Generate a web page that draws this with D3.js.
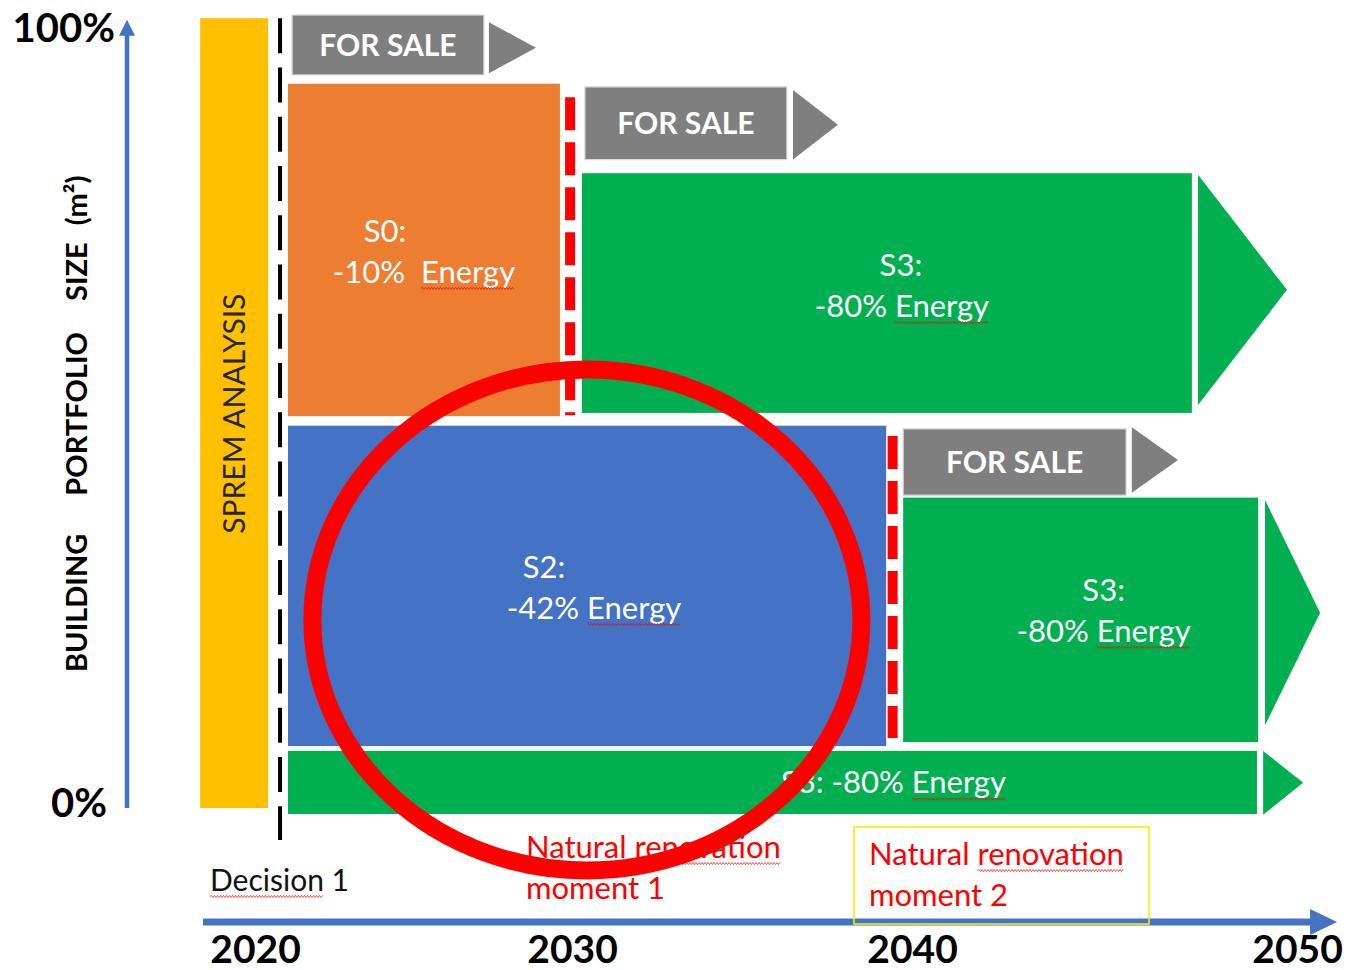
<!DOCTYPE html>
<html>
<head>
<meta charset="utf-8">
<script src="https://cdn.jsdelivr.net/npm/d3@7/dist/d3.min.js"></script>
<style>
  html, body { margin: 0; padding: 0; background: #fff; }
  svg { display: block; font-family: Lato, "Open Sans", "Liberation Sans", sans-serif; }
  text { white-space: pre; }
</style>
</head>
<body>
<svg id="chart" width="1348" height="970"></svg>
<script>
// Timeline (years) and portfolio share (%) ticks
const yearTicks  = [2020, 2030, 2040, 2050];
const shareTicks = [0, 100];

// Renovation strategies: scenario, energy saving (%), period (years), share of portfolio (%)
const scenarioName   = ["S0", "S3", "S2", "S3", "S3"];
const scenarioSaving = [10, 80, 42, 80, 80];
const scenarioStart  = [2021.04, 2030.29, 2021.04, 2039.74, 2021.04];
const scenarioEnd    = [2029.62, 2047.27, 2039.24, 2048.99, 2048.96];
const scenarioHigh   = [91.4, 80.2, 48.6, 39.6, 7.9];
const scenarioLow    = [49.8, 50.2, 8.5, 9.0, 0];

// Scenarios that carry on past the horizon: arrow start / tip (years), share span (%)
const carryStart = [null, 2047.43, null, 2049.17, 2049.12];
const carryTip   = [null, 2049.74, null, 2050.60, 2050.16];
const carryHigh  = [null, 80.0, null, 39.3, 7.9];
const carryLow   = [null, 51.2, null, 11.1, -0.1];

// Parts of the portfolio put up for sale
const saleStart      = [2021.17, 2030.38, 2039.74];
const saleEnd        = [2027.22, 2036.32, 2045.56];
const saleHigh       = [100, 91.0, 48.2];
const saleLow        = [92.5, 81.9, 39.9];
const saleArrowStart = [2027.38, 2036.50, 2045.71];
const saleArrowTip   = [2028.86, 2037.82, 2046.91];
const saleArrowHigh  = [99.1, 90.6, 48.4];
const saleArrowLow   = [92.7, 81.9, 40.2];

// SPREM analysis phase
const analysisYears = [2018.27, 2020.41];
const analysisShare = [0.75, 99.6];

// Decision point and natural renovation moments
const decisionYear   = 2020.79;
const decisionShare  = [-3.25, 99.6];
const renovationYear = [2029.94, 2039.43];
const renovationHigh = [89.7, 47.3];
const renovationLow  = [49.9, 9.5];
const renovationText = ["Natural renovation\nmoment 1", "Natural renovation\nmoment 2"];

// Highlighted S2 area
const focusYears = [2021.81, 2038.51];
const focusShare = [-7.07, 55.63];

// ---------------------------------------------------------------
const COLORS = { S0: "#ED7D31", S2: "#4472C4", S3: "#00B050" };
const AXIS = "#4472C4", SALE = "#7F7F7F", RED = "#FF0000", SPREM = "#FFC000";

const svg = d3.select("#chart");
const x = d3.scaleLinear().domain(yearTicks).range([255, 572, 912, 1297]);
const y = d3.scaleLinear().domain([0, 100]).range([814, 15]);

const arrowPath = (x0, x1, hi, lo) =>
  `M${x(x0)},${y(hi)}L${x(x1)},${(y(hi) + y(lo)) / 2}L${x(x0)},${y(lo)}Z`;

// wavy spell-check style underline under a word of a text element
function squiggle(node, word) {
  const s = node.textContent, i = s.indexOf(word);
  if (i < 0) return;
  const a = node.getStartPositionOfChar(i), b = node.getEndPositionOfChar(i + word.length - 1);
  const by = a.y + 5.5;
  let d = `M${a.x},${by}`, k = 0;
  for (let xx = a.x + 1.5; xx <= b.x; xx += 1.5) { k++; d += `L${xx},${by + (k % 2 ? -1 : 1)}`; }
  d3.select(node.parentNode).append("path").attr("d", d)
    .attr("fill", "none").attr("stroke", RED).attr("stroke-width", 0.9).attr("opacity", 0.8);
}

// SPREM analysis bar
svg.append("rect")
  .attr("x", x(analysisYears[0])).attr("y", y(analysisShare[1]))
  .attr("width", x(analysisYears[1]) - x(analysisYears[0]))
  .attr("height", y(analysisShare[0]) - y(analysisShare[1]))
  .attr("fill", SPREM);
svg.append("text")
  .attr("transform", `translate(${(x(analysisYears[0]) + x(analysisYears[1])) / 2 + 11},${y(50.1)}) rotate(-90)`)
  .attr("text-anchor", "middle").attr("font-size", 30).attr("fill", "#262626")
  .text("SPREM ANALYSIS");

// Scenario blocks
const idx = d3.range(scenarioName.length);
const blocks = svg.append("g");
blocks.selectAll("rect").data(idx).join("rect")
  .attr("x", i => x(scenarioStart[i])).attr("y", i => y(scenarioHigh[i]))
  .attr("width", i => x(scenarioEnd[i]) - x(scenarioStart[i]))
  .attr("height", i => y(scenarioLow[i]) - y(scenarioHigh[i]))
  .attr("fill", i => COLORS[scenarioName[i]]);
blocks.selectAll("path").data(idx.filter(i => carryStart[i] !== null)).join("path")
  .attr("d", i => arrowPath(carryStart[i], carryTip[i], carryHigh[i], carryLow[i]))
  .attr("fill", i => COLORS[scenarioName[i]]);

// Scenario labels (name line + saving line; a single line in the thin bottom block)
const nameShift   = [-39, 14, -43, 23, 121];
const savingShift = [0, 15, 7, 23, 121];
const lineShift   = [0, -9, 0, -11, 0];
const labels = svg.append("g").attr("fill", "#fff").attr("font-size", 31).attr("text-anchor", "middle");
idx.forEach(i => {
  const cx = (x(scenarioStart[i]) + x(scenarioEnd[i])) / 2;
  const cy = (y(scenarioHigh[i]) + y(scenarioLow[i])) / 2 + lineShift[i];
  const gap = scenarioName[i] === "S0" ? "  " : " ";
  if (scenarioHigh[i] - scenarioLow[i] > 15) {
    labels.append("text").attr("x", cx + nameShift[i]).attr("y", cy - 8).text(`${scenarioName[i]}:`);
    const t = labels.append("text").attr("x", cx + savingShift[i]).attr("y", cy + 33)
      .text(`-${scenarioSaving[i]}%${gap}Energy`);
    squiggle(t.node(), "Energy");
  } else {
    const t = labels.append("text").attr("x", cx + savingShift[i]).attr("y", cy + 11)
      .text(`${scenarioName[i]}: -${scenarioSaving[i]}% Energy`);
    squiggle(t.node(), "Energy");
  }
});

// For-sale arrows
const si = d3.range(saleStart.length);
const sale = svg.append("g");
sale.selectAll("rect").data(si).join("rect")
  .attr("x", i => x(saleStart[i])).attr("y", i => y(saleHigh[i]))
  .attr("width", i => x(saleEnd[i]) - x(saleStart[i]))
  .attr("height", i => y(saleLow[i]) - y(saleHigh[i]))
  .attr("fill", SALE).attr("stroke", "#d9d9d9").attr("stroke-width", 1.2);
sale.selectAll("path").data(si).join("path")
  .attr("d", i => arrowPath(saleArrowStart[i], saleArrowTip[i], saleArrowHigh[i], saleArrowLow[i]))
  .attr("fill", SALE);
sale.selectAll("text").data(si).join("text")
  .attr("x", i => (x(saleStart[i]) + x(saleEnd[i])) / 2)
  .attr("y", i => (y(saleHigh[i]) + y(saleLow[i])) / 2 + 11)
  .attr("text-anchor", "middle").attr("fill", "#fff")
  .attr("font-size", 30).attr("font-weight", 700)
  .text("FOR SALE");

// Decision line
svg.append("line")
  .attr("x1", x(decisionYear)).attr("x2", x(decisionYear))
  .attr("y1", y(decisionShare[1])).attr("y2", y(decisionShare[0]))
  .attr("stroke", "#000").attr("stroke-width", 4).attr("stroke-dasharray", "35,14.25");

// Natural renovation moments
svg.append("g").selectAll("line").data(renovationYear).join("line")
  .attr("x1", d => x(d)).attr("x2", d => x(d))
  .attr("y1", (d, i) => y(renovationHigh[i])).attr("y2", (d, i) => y(renovationLow[i]))
  .attr("stroke", RED).attr("stroke-width", 10).attr("stroke-dasharray", "33,12");

// Y axis arrow with 0% / 100% labels
const axX = 127;
svg.append("line").attr("x1", axX).attr("x2", axX).attr("y1", y(0.75)).attr("y2", y(97.5))
  .attr("stroke", AXIS).attr("stroke-width", 4.5);
svg.append("path").attr("d", `M${axX - 8},${y(97.4)}L${axX},${y(99.4)}L${axX + 8},${y(97.4)}Z`).attr("fill", AXIS);
const yAxis = svg.append("g").attr("transform", `translate(115,0)`)
  .call(d3.axisLeft(y).tickValues(shareTicks).tickFormat(d => d + "%").tickSize(0).tickPadding(0));
yAxis.select(".domain").remove();
yAxis.selectAll("text")
  .attr("font-family", "Lato, sans-serif").attr("font-size", 40).attr("font-weight", 700).attr("fill", "#000")
  .attr("x", d => d === 0 ? -8 : 0)
  .attr("y", d => d === 100 ? 12.5 : -11.5).attr("dy", "0.36em");

// Y axis title
const yTitle = svg.append("text")
  .attr("transform", "translate(87,672) rotate(-90)")
  .attr("font-size", 29).attr("font-weight", 700).attr("fill", "#000");
[["BUILDING", 0], ["PORTFOLIO", 38], ["SIZE", 31], ["(m²)", 17]].forEach(([w, dx]) =>
  yTitle.append("tspan").attr("dx", dx).text(w));

// X axis arrow with year labels
const axY = 922;
svg.append("line").attr("x1", x(2018.36)).attr("x2", x(2050.4)).attr("y1", axY).attr("y2", axY)
  .attr("stroke", AXIS).attr("stroke-width", 7);
svg.append("path").attr("d", `M${x(2050.34)},${axY - 13}L${x(2051.04)},${axY}L${x(2050.34)},${axY + 13}Z`).attr("fill", AXIS);
const xAxis = svg.append("g").attr("transform", "translate(0,935)")
  .call(d3.axisBottom(x).tickValues(yearTicks).tickFormat(d3.format("d")).tickSize(0).tickPadding(0));
xAxis.select(".domain").remove();
xAxis.selectAll("text")
  .attr("font-family", "Lato, sans-serif").attr("font-size", 39).attr("font-weight", 700).attr("fill", "#000");

// Decision label
const dec = svg.append("text").attr("x", 210).attr("y", 891).attr("font-size", 30).attr("fill", "#111")
  .text("Decision 1");
squiggle(dec.node(), "Decision");

// Box round the second renovation moment
svg.append("rect").attr("x", 854).attr("y", 827).attr("width", 295).attr("height", 97)
  .attr("fill", "none").attr("stroke", "#F2F200").attr("stroke-width", 1.6);

// Renovation moment labels
const momentPos = [[526, 858], [869, 865]];
renovationText.forEach((txt, i) => {
  txt.split("\n").forEach((line, j) => {
    const t = svg.append("text").attr("x", momentPos[i][0]).attr("y", momentPos[i][1] + j * 41)
      .attr("font-size", 31).attr("fill", RED).text(line);
    squiggle(t.node(), "renovation");
  });
});

// Highlight ring round the S2 area
svg.append("ellipse")
  .attr("cx", (x(focusYears[0]) + x(focusYears[1])) / 2)
  .attr("cy", (y(focusShare[0]) + y(focusShare[1])) / 2)
  .attr("rx", (x(focusYears[1]) - x(focusYears[0])) / 2)
  .attr("ry", (y(focusShare[0]) - y(focusShare[1])) / 2)
  .attr("fill", "none").attr("stroke", RED).attr("stroke-width", 18);
</script>
</body>
</html>
